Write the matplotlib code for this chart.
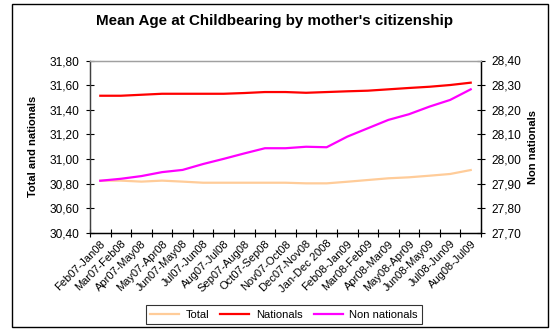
import numpy as np
import matplotlib
matplotlib.use("Agg")
import matplotlib.pyplot as plt
from matplotlib.ticker import FuncFormatter
from matplotlib.lines import Line2D
from matplotlib.patches import Rectangle
from matplotlib.transforms import ScaledTranslation

plt.rcParams['font.family'] = ['Liberation Sans', 'DejaVu Sans']

# periods (12-month moving windows)
periods = ["Feb07-Jan08", "Mar07-Feb08", "Apr07-May08", "May07-Apr08", "Jun07-May08",
           "Jul07-Jun08", "Aug07-Jul08", "Sep07-Aug08", "Oct07-Sep08", "Nov07-Oct08",
           "Dec07-Nov08", "Jan-Dec 2008", "Feb08-Jan09", "Mar08-Feb09", "Apr08-Mar09",
           "May08-Apr09", "Jun08-May09", "Jul08-Jun09", "Aug08-Jul09"]

# left axis
total = [30.825, 30.825, 30.817, 30.825, 30.817, 30.808, 30.808, 30.808, 30.808, 30.808,
         30.803, 30.803, 30.816, 30.830, 30.844, 30.852, 30.865, 30.879, 30.911]
nationals = [31.514, 31.514, 31.522, 31.530, 31.530, 31.530, 31.530, 31.536, 31.544, 31.544,
             31.538, 31.544, 31.550, 31.555, 31.566, 31.577, 31.587, 31.601, 31.620]
# right axis
non_nationals = [27.912, 27.920, 27.931, 27.947, 27.956, 27.980, 28.001, 28.023, 28.044, 28.044,
                 28.050, 28.048, 28.091, 28.125, 28.159, 28.182, 28.213, 28.240, 28.283]

c_total = '#FFCC99'
c_nat = '#FF0000'
c_non = '#FF00FF'

fig = plt.figure(figsize=(5.5, 3.29), dpi=100)
ax = fig.add_axes([90 / 550, 1 - 233 / 329, 391 / 550, 172.5 / 329])
ax2 = ax.twinx()

x = np.arange(len(periods))
ax.plot(x, total, color=c_total, lw=1.6)
ax.plot(x, nationals, color=c_nat, lw=1.6)
ax2.plot(x, non_nationals, color=c_non, lw=1.6)

comma = FuncFormatter(lambda v, p: f"{v:.2f}".replace('.', ','))

ax.set_xlim(-0.5, len(periods) - 0.5)
ax.set_ylim(30.40, 31.80)
ax.set_yticks(np.arange(30.40, 31.81, 0.20))
ax.yaxis.set_major_formatter(comma)
ax2.set_ylim(27.70, 28.40)
ax2.set_yticks(np.arange(27.70, 28.41, 0.10))
ax2.yaxis.set_major_formatter(comma)

ax.set_xticks(x)
ax.set_xticklabels(periods, rotation=45, ha='right', va='top', rotation_mode='anchor', fontsize=8)
shift = ScaledTranslation(-11 / 100, 0, fig.dpi_scale_trans)
for lab in ax.get_xticklabels():
    lab.set_transform(lab.get_transform() + shift)
ax.tick_params(axis='x', which='major', length=0, pad=4)
ax.set_xticks(np.arange(-0.5, len(periods)), minor=True)
ax.tick_params(axis='x', which='minor', direction='inout', length=6, width=0.8)

ax.tick_params(axis='y', direction='inout', length=6, width=0.8, labelsize=8.6, pad=5)
ax2.tick_params(axis='y', direction='inout', length=6, width=0.8, labelsize=8.6, pad=4.5)

for a in (ax, ax2):
    a.spines['top'].set_color('#A0A0A0')
    a.spines['left'].set_color('#404040')
    a.spines['right'].set_color('black')
    a.spines['bottom'].set_color('black')
    for s in a.spines.values():
        s.set_linewidth(0.9)

ax.set_ylabel("Total and nationals", fontsize=8, fontweight='bold', labelpad=8)
ax2.set_ylabel("Non nationals", fontsize=8, fontweight='bold', labelpad=5)

fig.text(0.5, 1 - 21 / 329, "Mean Age at Childbearing by mother's citizenship",
         ha='center', va='center', fontsize=10.9, fontweight='bold')

handles = [Line2D([], [], color=c_total, lw=1.6),
           Line2D([], [], color=c_nat, lw=1.6),
           Line2D([], [], color=c_non, lw=1.6)]
leg = fig.legend(handles, ["Total", "Nationals", "Non nationals"], ncol=3,
                 loc='center', bbox_to_anchor=(284 / 550, 1 - 314.5 / 329),
                 fontsize=8, frameon=True, fancybox=False, edgecolor='black',
                 handlelength=2.6, handletextpad=0.6, columnspacing=1.0,
                 borderpad=0.4, borderaxespad=0)
leg.get_frame().set_linewidth(0.8)

# outer chart border
fig.patches.append(Rectangle((12 / 550, 2 / 329), 536 / 550, 323 / 329,
                             transform=fig.transFigure, fill=False,
                             edgecolor='black', lw=1.0))

fig.savefig("out.png", dpi=100)
